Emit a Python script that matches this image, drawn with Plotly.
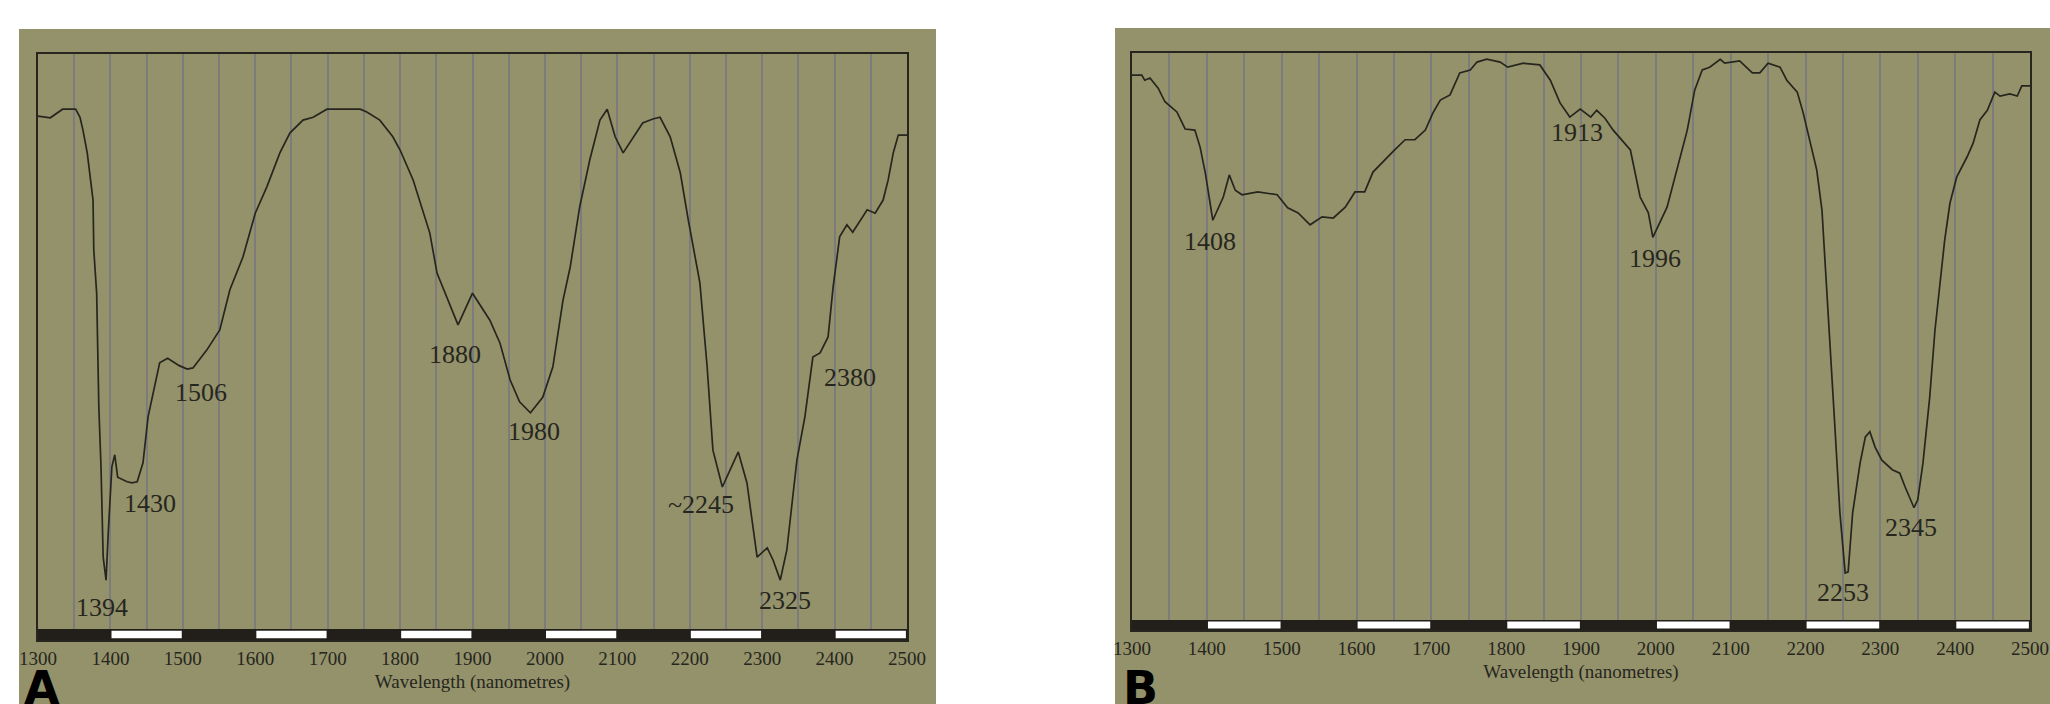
import plotly.graph_objects as go

# ---- Spectrum A: wavelength (nm) and relative reflectance ----
wl_a = [1300, 1317, 1334, 1352, 1358, 1362, 1368, 1372, 1376, 1377, 1381, 1384, 1387, 1390, 1394,
        1397, 1402, 1406, 1410, 1423, 1430, 1437, 1445, 1452, 1459, 1468, 1479, 1495, 1506, 1514,
        1533, 1551, 1565, 1583, 1600, 1616, 1634, 1648, 1666, 1680, 1699, 1745, 1754, 1772, 1790,
        1800, 1818, 1832, 1841, 1851, 1865, 1880, 1900, 1924, 1938, 1952, 1965, 1980, 1997, 2011,
        2025, 2035, 2048, 2062, 2076, 2086, 2097, 2108, 2135, 2149, 2159, 2173, 2187, 2198, 2214,
        2224, 2232, 2245, 2267, 2279, 2293, 2307, 2315, 2325, 2334, 2348, 2359, 2370, 2380, 2391,
        2398, 2407, 2417, 2425, 2445, 2456, 2467, 2474, 2481, 2488, 2500]
refl_a = [0.892, 0.889, 0.904, 0.904, 0.890, 0.868, 0.828, 0.786, 0.746, 0.660, 0.584, 0.386, 0.282, 0.125, 0.085,
          0.167, 0.282, 0.303, 0.264, 0.256, 0.254, 0.256, 0.289, 0.369, 0.410, 0.463, 0.471, 0.458, 0.452, 0.454,
          0.485, 0.520, 0.590, 0.647, 0.723, 0.769, 0.828, 0.863, 0.885, 0.890, 0.904, 0.904, 0.899, 0.885, 0.856,
          0.833, 0.781, 0.723, 0.689, 0.619, 0.577, 0.529, 0.584, 0.537, 0.497, 0.433, 0.395, 0.376, 0.403, 0.456,
          0.572, 0.630, 0.734, 0.816, 0.885, 0.904, 0.856, 0.828, 0.880, 0.887, 0.890, 0.856, 0.793, 0.711, 0.602,
          0.456, 0.311, 0.247, 0.308, 0.254, 0.125, 0.141, 0.120, 0.085, 0.137, 0.294, 0.369, 0.473, 0.480, 0.508,
          0.595, 0.682, 0.703, 0.690, 0.729, 0.723, 0.746, 0.781, 0.828, 0.859, 0.859]

# ---- Spectrum B ----
wl_b = [1300, 1313, 1317, 1324, 1335, 1344, 1360, 1371, 1384, 1391, 1398, 1404, 1408, 1422, 1430,
        1438, 1447, 1468, 1494, 1508, 1522, 1538, 1554, 1569, 1585, 1598, 1611, 1622, 1635, 1651,
        1665, 1678, 1692, 1702, 1712, 1725, 1738, 1752, 1761, 1774, 1792, 1802, 1823, 1845, 1859,
        1872, 1885, 1899, 1913, 1921, 1932, 1943, 1966, 1979, 1990, 1996, 2015, 2028, 2042, 2052,
        2062, 2072, 2086, 2092, 2112, 2129, 2139, 2150, 2166, 2175, 2189, 2197, 2206, 2215, 2222,
        2229, 2235, 2239, 2246, 2253, 2257, 2263, 2273, 2280, 2286, 2293, 2302, 2316, 2326, 2333,
        2345, 2350, 2357, 2366, 2373, 2380, 2386, 2393, 2402, 2416, 2424, 2433, 2443, 2453, 2460,
        2473, 2483, 2489, 2500]
refl_b = [0.961, 0.961, 0.952, 0.956, 0.938, 0.914, 0.896, 0.866, 0.864, 0.834, 0.788, 0.741, 0.705, 0.746, 0.785,
          0.758, 0.750, 0.755, 0.750, 0.727, 0.718, 0.697, 0.711, 0.709, 0.728, 0.755, 0.755, 0.790, 0.808, 0.829,
          0.847, 0.847, 0.864, 0.894, 0.917, 0.926, 0.965, 0.970, 0.984, 0.989, 0.984, 0.975, 0.982, 0.979, 0.952,
          0.912, 0.887, 0.901, 0.887, 0.899, 0.885, 0.864, 0.829, 0.746, 0.718, 0.675, 0.728, 0.794, 0.864, 0.935,
          0.970, 0.975, 0.989, 0.982, 0.986, 0.965, 0.965, 0.982, 0.975, 0.952, 0.931, 0.894, 0.841, 0.794, 0.723,
          0.570, 0.453, 0.347, 0.189, 0.083, 0.085, 0.189, 0.277, 0.323, 0.332, 0.305, 0.282, 0.265, 0.259, 0.235,
          0.198, 0.212, 0.277, 0.393, 0.511, 0.600, 0.670, 0.735, 0.781, 0.817, 0.841, 0.882, 0.899, 0.931, 0.924,
          0.928, 0.924, 0.942, 0.942]

# ---- Absorption feature labels: (text, x position nm, y position) ----
labels_a = [("1394", 1388, 0.038), ("1430", 1455, 0.219), ("1506", 1525, 0.412),
            ("1880", 1876, 0.477), ("1980", 1985, 0.343), ("~2245", 2215, 0.216),
            ("2325", 2331, 0.050), ("2380", 2421, 0.438)]
labels_b = [("1408", 1404, 0.667), ("1913", 1895, 0.859), ("1996", 1999, 0.638),
            ("2253", 2250, 0.048), ("2345", 2341, 0.164)]

tick_vals = list(range(1300, 2501, 100))
tick_text = [str(v) for v in tick_vals]

OLIVE = "#94926a"
INK = "#26261f"
GRID = "#7c7c7c"
W, H = 2050, 704

fig = go.Figure()
fig.add_trace(go.Scatter(x=wl_a, y=refl_a, mode="lines", line=dict(color=INK, width=1.7),
                         xaxis="x", yaxis="y", showlegend=False, hoverinfo="skip"))
fig.add_trace(go.Scatter(x=wl_b, y=refl_b, mode="lines", line=dict(color=INK, width=1.7),
                         xaxis="x2", yaxis="y2", showlegend=False, hoverinfo="skip"))

# panel geometry in pixels
panels = {
    "A": dict(left=38, right=907, top=54, bottom=640, base=629, bg=(19, 936, 29)),
    "B": dict(left=1132, right=2030, top=53, bottom=630, base=620, bg=(1115, 2050, 28)),
}

def xdom(p):
    return [p["left"] / W, p["right"] / W]

def ydom(p):
    return [1 - p["bottom"] / H, 1 - p["top"] / H]

def yrange(p):
    span = p["base"] - p["top"]
    return [-(p["bottom"] - p["base"]) / span, 1.0]

shapes = []
annotations = []
for key, p in panels.items():
    x0, x1, y0 = p["bg"]
    shapes.append(dict(type="rect", xref="paper", yref="paper", x0=x0 / W, x1=x1 / W,
                       y0=0, y1=1 - y0 / H, fillcolor=OLIVE, line=dict(width=0), layer="below"))

common_x = dict(range=[1300, 2500], tickvals=tick_vals, ticktext=tick_text, ticks="",
                showgrid=True, gridcolor=GRID, gridwidth=1.8,
                minor=dict(tick0=1300, dtick=50, showgrid=True, gridcolor=GRID, gridwidth=1.8, ticks=""),
                showline=True, linecolor=INK, linewidth=2, mirror=True, zeroline=False,
                tickfont=dict(family="Liberation Serif", size=19, color=INK),
                title=dict(text="Wavelength (nanometres)",
                           font=dict(family="Liberation Serif", size=19, color=INK), standoff=7),
                automargin=False, fixedrange=True)
common_y = dict(showticklabels=False, ticks="", showgrid=False, zeroline=False,
                showline=True, linecolor=INK, linewidth=2, mirror=True,
                automargin=False, fixedrange=True)

layout = dict(
    width=W, height=H, margin=dict(l=0, r=0, t=0, b=0, autoexpand=False), autosize=False,
    paper_bgcolor="white", plot_bgcolor=OLIVE, showlegend=False,
    xaxis=dict(domain=xdom(panels["A"]), anchor="y", **common_x),
    yaxis=dict(domain=ydom(panels["A"]), anchor="x", range=yrange(panels["A"]), **common_y),
    xaxis2=dict(domain=xdom(panels["B"]), anchor="y2", **common_x),
    yaxis2=dict(domain=ydom(panels["B"]), anchor="x2", range=yrange(panels["B"]), **common_y),
)

# alternating black / white wavelength scale bar under each spectrum
for key, (xr, yr) in {"A": ("x", "y"), "B": ("x2", "y2")}.items():
    lo = yrange(panels[key])[0]
    shapes.append(dict(type="rect", xref=xr, yref=yr, x0=1300, x1=2500, y0=lo, y1=0,
                       fillcolor="#221f1b", line=dict(width=0), layer="above"))
    for i, start in enumerate(tick_vals[:-1]):
        if i % 2 == 1:
            shapes.append(dict(type="rect", xref=xr, yref=yr, x0=start + 1.5, x1=start + 98.5,
                               y0=lo * 0.85, y1=lo * 0.15, fillcolor="white",
                               line=dict(width=0), layer="above"))

for labels, xr, yr in ((labels_a, "x", "y"), (labels_b, "x2", "y2")):
    for text, lx, ly in labels:
        annotations.append(dict(text=text, x=lx, y=ly, xref=xr, yref=yr, showarrow=False,
                                xanchor="center", yanchor="middle",
                                font=dict(family="Liberation Serif", size=26, color=INK)))

for letter, px in (("A", 22), ("B", 1121)):
    annotations.append(dict(text="<b>" + letter + "</b>", x=px / W, y=1 - 688 / H,
                            xref="paper", yref="paper", showarrow=False,
                            xanchor="left", yanchor="middle",
                            font=dict(family="DejaVu Sans", size=46, color="black")))

layout["shapes"] = shapes
layout["annotations"] = annotations
fig.update_layout(**layout)

fig.write_html("out.html")
